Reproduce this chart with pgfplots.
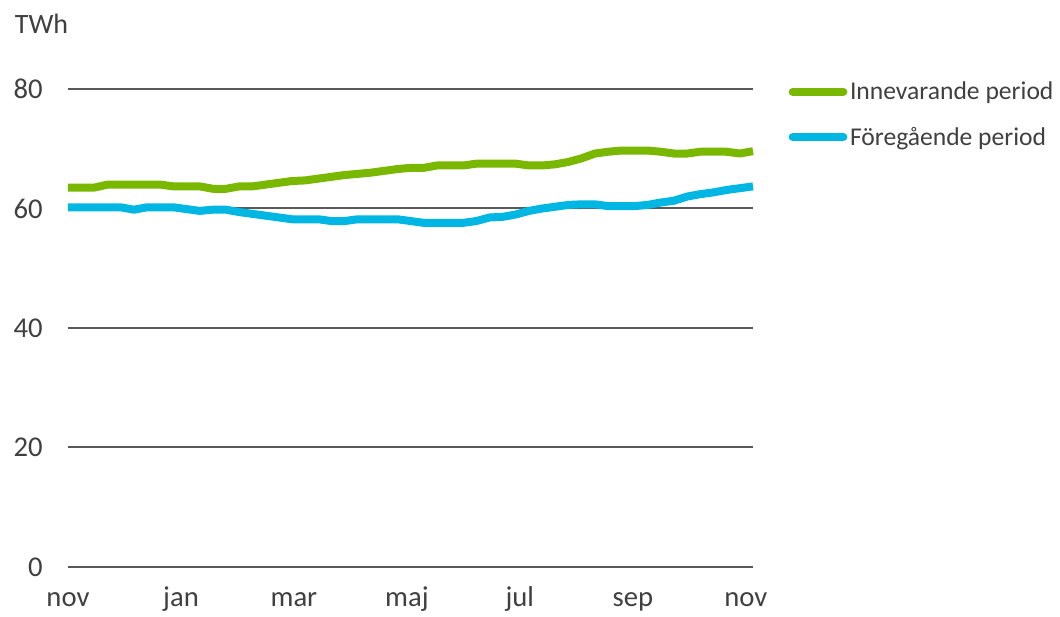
\documentclass[border=0pt]{standalone}
\usepackage{pgfplots}
\pgfplotsset{compat=1.18}
\usepackage{fontspec}
\setmainfont{Carlito}
\definecolor{txt}{HTML}{404040}
\definecolor{gridc}{HTML}{595959}
\definecolor{cgreen}{HTML}{7AB800}
\definecolor{cblue}{HTML}{00B7E3}
\newcommand{\fs}{\fontsize{19.2}{22}\selectfont}
\newcommand{\ft}{\fontsize{21.5}{24}\selectfont}
\begin{document}
\begin{tikzpicture}
\begin{axis}[
  scale only axis,
  width=513.75pt, height=358.5pt,
  xmin=0, xmax=52, ymin=0, ymax=80,
  axis line style={draw=none},
  ytick={0,20,40,60,80},
  ymajorgrids,
  grid style={gridc, line width=1.5pt},
  xtick={0,8.58,17.15,25.73,34.3,42.88,51.45},
  xticklabels={nov,jan,mar,maj,jul,sep,nov},
  tick style={draw=none},
  ticklabel style={font=\ft, text=txt},
  yticklabel style={xshift=-15.5pt},
  xticklabel style={anchor=base, yshift=-30pt},
  /pgf/number format/assume math mode=true,
  legend style={draw=none, fill=none, at={(1.0517,1.021)}, anchor=north west,
    font=\fs, text=txt, row sep=15pt,
    inner sep=0pt, legend cell align=left},
  legend image code/.code={\draw[#1, line cap=round, line width=6pt] (0pt,0pt) -- (38pt,0pt);},
  clip=false,
]
\addplot[cgreen, line width=6pt, line join=round] coordinates {
(0,63.5)(1,63.5)(2,63.5)(3,64.0)(4,64.0)(5,64.0)(6,64.0)(7,64.0)(8,63.7)(9,63.7)
(10,63.7)(11,63.3)(12,63.3)(13,63.7)(14,63.7)(15,64.0)(16,64.3)(17,64.6)(18,64.7)(19,65.0)
(20,65.3)(21,65.6)(22,65.8)(23,66.0)(24,66.3)(25,66.6)(26,66.8)(27,66.8)(28,67.2)(29,67.2)
(30,67.2)(31,67.5)(32,67.5)(33,67.5)(34,67.5)(35,67.2)(36,67.2)(37,67.4)(38,67.8)(39,68.4)
(40,69.2)(41,69.5)(42,69.7)(43,69.7)(44,69.7)(45,69.5)(46,69.2)(47,69.2)(48,69.5)(49,69.5)
(50,69.5)(51,69.2)(52,69.6)};
\addlegendentry{Innevarande period}
\addplot[cblue, line width=6pt, line join=round] coordinates {
(0,60.2)(1,60.2)(2,60.2)(3,60.2)(4,60.2)(5,59.8)(6,60.2)(7,60.2)(8,60.2)(9,59.9)
(10,59.6)(11,59.8)(12,59.8)(13,59.4)(14,59.1)(15,58.8)(16,58.5)(17,58.2)(18,58.2)(19,58.2)
(20,57.9)(21,57.9)(22,58.2)(23,58.2)(24,58.2)(25,58.2)(26,57.9)(27,57.6)(28,57.6)(29,57.6)
(30,57.6)(31,57.9)(32,58.5)(33,58.6)(34,59.0)(35,59.6)(36,60.0)(37,60.3)(38,60.6)(39,60.7)
(40,60.7)(41,60.4)(42,60.4)(43,60.4)(44,60.6)(45,61.0)(46,61.3)(47,62.0)(48,62.4)(49,62.7)
(50,63.1)(51,63.4)(52,63.7)};
\addlegendentry{Föregående period}
\end{axis}
\node[anchor=west, text=txt, font=\fontsize{21}{24}\selectfont, inner sep=0pt] at ([xshift=-40pt,yshift=49pt]current axis.north west) {TWh};
\path[use as bounding box] ([xshift=-51pt,yshift=-34.5pt]current axis.south west) rectangle ([xshift=744pt,yshift=425.25pt]current axis.south west);
\end{tikzpicture}
\end{document}
